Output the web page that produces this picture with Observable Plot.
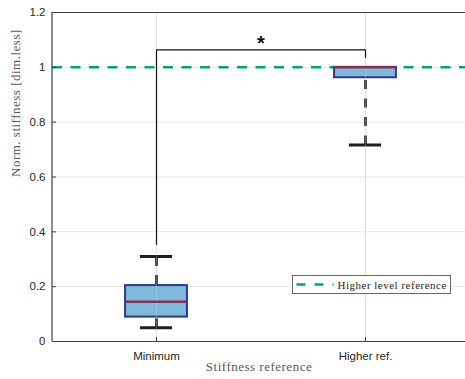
<!DOCTYPE html>
<html>
<head>
<meta charset="utf-8">
<script src="https://cdn.jsdelivr.net/npm/d3@7"></script>
<script src="https://cdn.jsdelivr.net/npm/@observablehq/plot@0.6"></script>
<style>
  html, body { margin: 0; padding: 0; background: #fff; }
  #chart svg { display: block; }
</style>
</head>
<body>
<div id="chart"></div>
<script>
// Box-plot summary of normalised stiffness per reference condition
const categories = ["Minimum", "Higher ref."];
const whiskerLow = [0.05, 0.717];
const quartile1 = [0.089, 0.962];
const medians = [0.145, 1.0];
const quartile3 = [0.204, 1.0];
const whiskerHigh = [0.31, 1.0];

// Higher level reference line
const referenceLevel = 1;
const referenceLabel = "Higher level reference";

// Significance bracket between the two groups
const bracketFeet = [0.355, 1.036];
const bracketTop = 1.064;
const starLevel = 1.1;

const yTicks = [0, 0.2, 0.4, 0.6, 0.8, 1, 1.2];
const yTickLabels = ["0", "0.2", "0.4", "0.6", "0.8", "1", "1.2"];

const rows = categories.map((name, k) => ({
  name, i: k + 1,
  lo: whiskerLow[k], q1: quartile1[k], med: medians[k], q3: quartile3[k], hi: whiskerHigh[k]
}));

const bracketPath = [
  {x: 1, y: bracketFeet[0]},
  {x: 1, y: bracketTop},
  {x: 2, y: bracketTop},
  {x: 2, y: bracketFeet[1]}
];

const boxHalf = 0.148;
const capHalf = 0.077;
const axisColor = "#404040";
const textColor = "#262626";
const labelColor = "#5a5a5a";
const green = "#00a47a";
const serif = "'Liberation Serif', 'Times New Roman', serif";

const chart = Plot.plot({
  width: 465,
  height: 379,
  marginLeft: 52,
  marginTop: 12,
  marginBottom: 38,
  marginRight: 0,
  style: {fontFamily: "'Liberation Sans', Arial, sans-serif", fontSize: "11px", color: textColor, background: "#fff"},
  x: {domain: [0.5, 2.5], range: [51.5, 469.5]},
  y: {domain: [0, 1.2], range: [341, 12]},
  marks: [
    Plot.gridY(yTicks, {stroke: "#e8e8e8", strokeOpacity: 1}),
    Plot.gridX([1, 2], {stroke: "#e8e8e8", strokeOpacity: 1}),
    // reference level
    Plot.ruleY([referenceLevel], {stroke: green, strokeWidth: 2.5, strokeDasharray: "10,8.5"}),
    // whiskers, drawn from the cap toward the box
    Plot.ruleX(rows, {x: "i", y1: "lo", y2: "q1", stroke: "#1f1f1f", strokeWidth: 2.6, strokeDasharray: "9,9.5"}),
    Plot.ruleX(rows.filter(d => d.hi > d.q3), {x: "i", y1: "hi", y2: "q3", stroke: "#1f1f1f", strokeWidth: 2.6, strokeDasharray: "10,9"}),
    Plot.ruleY(rows, {y: "lo", x1: d => d.i - capHalf, x2: d => d.i + capHalf, stroke: "#1f1f1f", strokeWidth: 3}),
    Plot.ruleY(rows.filter(d => d.hi > d.q3), {y: "hi", x1: d => d.i - capHalf, x2: d => d.i + capHalf, stroke: "#1f1f1f", strokeWidth: 3}),
    // boxes
    Plot.rect(rows, {x1: d => d.i - boxHalf, x2: d => d.i + boxHalf, y1: "q1", y2: "q3", fill: "#7fbadc", stroke: "#2a3a8c", strokeWidth: 2}),
    Plot.gridX([1, 2], {stroke: "#c8d6e2", strokeOpacity: 0.35}),
    Plot.ruleY(rows, {y: "med", x1: d => d.i - boxHalf, x2: d => d.i + boxHalf, stroke: "#8c2f57", strokeWidth: 2.5}),
    // significance bracket
    Plot.line(bracketPath, {x: "x", y: "y", stroke: "#111", strokeWidth: 1.2}),
    Plot.text(["*"], {x: [1.5], y: [starLevel], fontSize: 20, fontWeight: "bold", fill: "#111", dy: 4}),
    // axes and frame
    Plot.ruleX([0.5], {stroke: axisColor, strokeWidth: 1.2}),
    Plot.ruleY([0], {stroke: axisColor, strokeWidth: 1.2}),
    Plot.ruleY([1.2], {stroke: axisColor, strokeWidth: 1.2}),
    Plot.axisY({ticks: yTicks, tickFormat: (d, k) => yTickLabels[k], tickSize: -4, tickPadding: 11, stroke: axisColor, fill: textColor, label: null, fontSize: 11.5}),
    Plot.axisX({ticks: [1, 2], tickFormat: i => categories[i - 1], tickSize: -4, tickPadding: 14, stroke: axisColor, fill: textColor, label: null, fontSize: 11.5}),
    Plot.text(["Norm. stiffness [dim.less]"], {frameAnchor: "left", dx: -37, rotate: -90, fontFamily: serif, fontSize: 13, fill: labelColor, letterSpacing: "0.5px"}),
    Plot.text(["Stiffness reference"], {frameAnchor: "bottom", dy: 29, fontFamily: serif, fontSize: 13, fill: labelColor})
  ]
});

document.getElementById("chart").appendChild(chart);

// widen the serif axis titles slightly
d3.select(chart).selectAll("text").filter(function() {
  return this.getAttribute("font-family") === serif || (this.parentNode && this.parentNode.getAttribute("font-family") === serif);
}).attr("letter-spacing", "0.5px");

// legend box in the lower right of the axes
const svg = d3.select(chart);
const lg = svg.append("g").attr("transform", "translate(292.5,275.5)").attr("text-anchor", "start");
lg.append("rect").attr("width", 158).attr("height", 18)
  .attr("fill", "#fff").attr("stroke", "#444").attr("stroke-width", 0.8);
lg.append("line").attr("x1", 4).attr("x2", 41).attr("y1", 9).attr("y2", 9)
  .attr("stroke", green).attr("stroke-width", 2.5).attr("stroke-dasharray", "9,9");
lg.append("text").attr("x", 45).attr("y", 13).text(referenceLabel)
  .attr("text-anchor", "start").attr("letter-spacing", "0.5px")
  .attr("font-family", serif).attr("font-size", 11).attr("fill", textColor);
</script>
</body>
</html>
